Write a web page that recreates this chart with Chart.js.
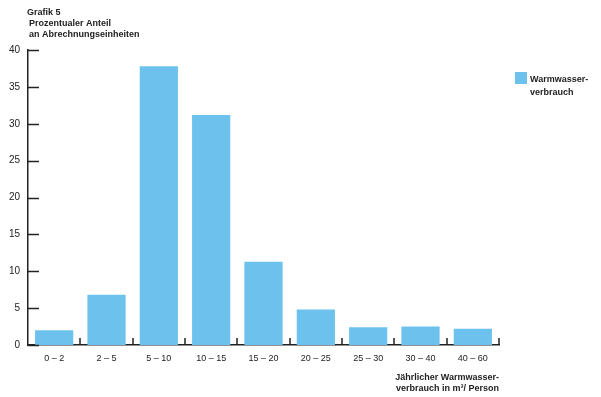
<!DOCTYPE html>
<html>
<head>
<meta charset="utf-8">
<script src="https://cdn.jsdelivr.net/npm/chart.js@4"></script>
<style>
  html, body { margin: 0; padding: 0; background: #fff; }
  #wrap { width: 601px; height: 397px; }
</style>
</head>
<body>
<div id="wrap"><canvas id="barChart" width="601" height="397"></canvas></div>
<script>
// Kategorien und Werte (Grafik 5)
const categories = ['0 – 2', '2 – 5', '5 – 10', '10 – 15', '15 – 20', '20 – 25', '25 – 30', '30 – 40', '40 – 60'];
const anteil = [2.0, 6.8, 37.8, 31.2, 11.3, 4.8, 2.4, 2.5, 2.2];
const yTicks = [0, 5, 10, 15, 20, 25, 30, 35, 40];
const titleLines = ['Grafik 5', 'Prozentualer Anteil', 'an Abrechnungseinheiten'];
const legendLines = ['Warmwasser-', 'verbrauch'];
const xTitleLines = ['Jährlicher Warmwasser-', 'verbrauch in m³/ Person'];

const barColor = '#6cc2ed';
const inkColor = '#222';
const font = '"Liberation Sans", Arial, sans-serif';

// Zusatztexte und Striche nach innen
const extras = {
    id: 'extras',
    afterDraw(chart) {
        const ctx = chart.ctx;
        const area = chart.chartArea;
        const x = chart.scales.x;
        const y = chart.scales.y;
        ctx.save();
        ctx.strokeStyle = inkColor;
        ctx.lineWidth = 1.5;
        // y-Striche
        yTicks.forEach(function(v) {
            const py = Math.round(y.getPixelForValue(v)) + 0.5;
            ctx.beginPath();
            ctx.moveTo(area.left, py);
            ctx.lineTo(area.left + 11, py);
            ctx.stroke();
        });
        // x-Striche zwischen den Kategorien
        for (let i = 0; i < categories.length; i++) {
            let px;
            if (i < categories.length - 1) {
                px = (x.getPixelForValue(i) + x.getPixelForValue(i + 1)) / 2;
            } else {
                px = area.right;
            }
            px = Math.round(px);
            ctx.beginPath();
            ctx.moveTo(px, area.bottom);
            ctx.lineTo(px, area.bottom - 7);
            ctx.stroke();
        }

        ctx.fillStyle = inkColor;
        ctx.textBaseline = 'middle';
        // Titel
        ctx.textAlign = 'left';
        ctx.font = 'bold 9px ' + font;
        ctx.fillText(titleLines[0], 27, 13);
        ctx.fillText(titleLines[1], 29, 24);
        ctx.fillText(titleLines[2], 29, 35);

        // Legende
        ctx.fillStyle = barColor;
        ctx.fillRect(515, 72, 12, 12);
        ctx.fillStyle = inkColor;
        ctx.fillText(legendLines[0], 530, 80);
        ctx.fillText(legendLines[1], 530, 93);

        // x-Achsentitel
        ctx.textAlign = 'right';
        ctx.fillText(xTitleLines[0], area.right, 378);
        ctx.fillText(xTitleLines[1], area.right, 389);
        ctx.restore();
    }
};

const ctx = document.getElementById('barChart').getContext('2d');
const chart = new Chart(ctx, {
    type: 'bar',
    data: {
        labels: categories,
        datasets: [{
            label: 'Warmwasserverbrauch',
            data: anteil,
            backgroundColor: barColor,
            borderWidth: 0,
            barPercentage: 0.73,
            categoryPercentage: 1.0
        }]
    },
    options: {
        responsive: false,
        animation: false,
        layout: {
            padding: { top: 50, right: 102, left: 0, bottom: 0 }
        },
        plugins: {
            legend: { display: false },
            tooltip: { enabled: false }
        },
        scales: {
            x: {
                grid: { display: false, drawTicks: false },
                border: { display: true, color: inkColor, width: 1.5 },
                ticks: {
                    color: inkColor,
                    font: { family: font, size: 9 },
                    padding: 8,
                    maxRotation: 0
                },
                afterFit: function(scale) { scale.height = 52; }
            },
            y: {
                min: 0,
                max: 40,
                grid: { display: false, drawTicks: false },
                border: { display: true, color: inkColor, width: 1.5 },
                ticks: {
                    stepSize: 5,
                    color: inkColor,
                    font: { family: font, size: 10 },
                    padding: 8
                },
                afterFit: function(scale) { scale.width = 28; }
            }
        }
    },
    plugins: [extras]
});
</script>
</body>
</html>
